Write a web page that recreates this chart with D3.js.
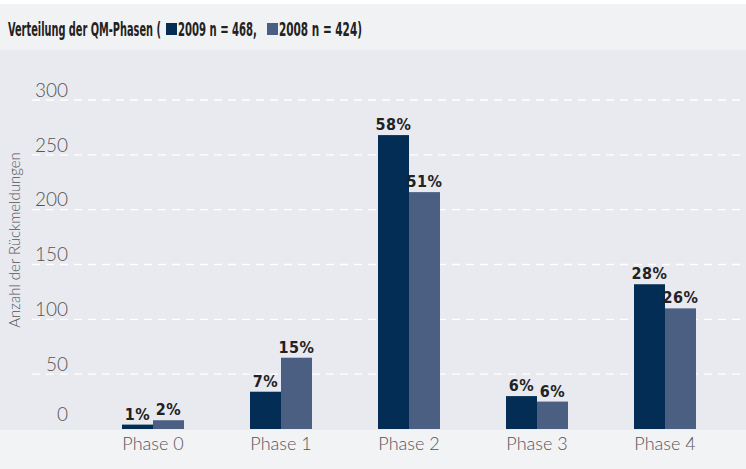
<!DOCTYPE html>
<html>
<head>
<meta charset="utf-8">
<script src="https://cdn.jsdelivr.net/npm/d3@7"></script>
<style>
body{margin:0;background:#fff;}
svg{display:block;}
text{white-space:pre;}
</style>
</head>
<body>
<div class="canvas"></div>
<script>
const phases=['Phase 0','Phase 1','Phase 2','Phase 3','Phase 4'];
const years=['2009','2008'];
const values2009=[4,34,268,30,132];
const values2008=[8,65,216,25,110];
const pct2009=['1%','7%','58%','6%','28%'];
const pct2008=['2%','15%','51%','6%','26%'];
const yTicks=[0,50,100,150,200,250,300];
const colors=['#042d56','#4b5f83'];

const W=746,H=469;
const svg=d3.select('.canvas').append('svg')
.attr('width',W)
.attr('height',H);

// backgrounds
svg.append('rect').attr('x',0).attr('y',4).attr('width',W).attr('height',46).attr('fill','#f1f2f4');
svg.append('rect').attr('x',0).attr('y',50).attr('width',W).attr('height',380).attr('fill','#e9eaef');
svg.append('rect').attr('x',0).attr('y',430).attr('width',W).attr('height',39).attr('fill','#f2f3f5');

// title with legend squares (condensed font squeezed to fit)
const parts=[{t:'Verteilung der QM-Phasen (',w:153},{sq:0},{t:'2009 n = 468,',w:79},{gap:5},{sq:1},{t:'2008 n = 424)',w:83}];
let tx=8;
parts.forEach(p=>{
  if(p.t){
    const g=svg.append('g');
    const el=g.append('text').attr('x',0).attr('y',0)
    .attr('font-family','"Liberation Sans Narrow", "DejaVu Sans Condensed", sans-serif')
    .attr('font-weight','bold').attr('font-size',20).attr('fill','#222')
    .text(p.t);
    const nat=el.node().getComputedTextLength();
    g.attr('transform',`translate(${tx},36) scale(${p.w/nat},1)`);
    tx+=p.w;
  }else if(p.gap){
    tx+=p.gap;
  }else{
    svg.append('rect').attr('x',tx+5).attr('y',23).attr('width',11).attr('height',12).attr('fill',colors[p.sq]);
    tx+=17;
  }
});

const y=d3.scaleLinear().domain([0,300]).range([429,100]);
const x=d3.scaleBand().domain(phases).range([89,729]);
const xs=d3.scaleBand().domain(years).range([x.bandwidth()/2-31,x.bandwidth()/2+31]);

// y axis labels
const yAxis=d3.axisLeft(y).tickValues(yTicks).tickSize(0).tickFormat(d=>d);
const yg=svg.append('g').attr('transform','translate(68,0)').call(yAxis);
yg.select('.domain').remove();
yg.selectAll('text')
.attr('dy','-0.2em')
.attr('x',0)
.attr('font-family','Lato, sans-serif')
.attr('font-weight',300)
.attr('font-size',19)
.attr('fill','#555');
yg.selectAll('.tick text').filter(d=>d===0).attr('dy','-0.45em');

// dashed grid
svg.append('g').selectAll('line')
.data(yTicks.filter(d=>d>0))
.enter().append('line')
.attr('x1',32).attr('x2',W)
.attr('y1',d=>y(d)).attr('y2',d=>y(d))
.attr('stroke','#fff').attr('stroke-width',1.3)
.attr('stroke-dasharray','8,6');

// y title
svg.append('text')
.attr('transform','translate(20,240) rotate(-90)')
.attr('text-anchor','middle')
.attr('font-family','Lato, sans-serif')
.attr('font-weight',300)
.attr('font-size',15)
.attr('fill','#555')
.text('Anzahl der Rückmeldungen');

const data=phases.map((p,i)=>({phase:p,vals:[
  {year:'2009',v:values2009[i],pct:pct2009[i]},
  {year:'2008',v:values2008[i],pct:pct2008[i]}]}));

const groups=svg.selectAll('.grp').data(data).enter().append('g')
.attr('class','grp')
.attr('transform',d=>`translate(${x(d.phase)},0)`);

groups.selectAll('rect').data(d=>d.vals).enter().append('rect')
.attr('x',d=>xs(d.year))
.attr('width',xs.bandwidth())
.attr('y',d=>y(d.v))
.attr('height',d=>y(0)-y(d.v))
.attr('fill',(d,i)=>colors[i]);

groups.selectAll('text.lbl').data(d=>d.vals).enter().append('text')
.attr('class','lbl')
.attr('x',d=>xs(d.year)+xs.bandwidth()/2)
.attr('y',d=>y(d.v)-5)
.attr('text-anchor','middle')
.attr('font-family','"DejaVu Sans Condensed", "DejaVu Sans", sans-serif')
.attr('font-weight','bold')
.attr('font-size',16)
.attr('letter-spacing',0.5)
.attr('fill','#222')
.text(d=>d.pct);

// x axis labels
const xAxis=d3.axisBottom(x).tickSize(0);
const xg=svg.append('g').attr('transform','translate(0,430)').call(xAxis);
xg.select('.domain').remove();
xg.selectAll('text')
.attr('y',20)
.attr('dy',0)
.attr('font-family','Lato, sans-serif')
.attr('font-weight',300)
.attr('font-size',18)
.attr('fill','#555');
</script>
</body>
</html>
